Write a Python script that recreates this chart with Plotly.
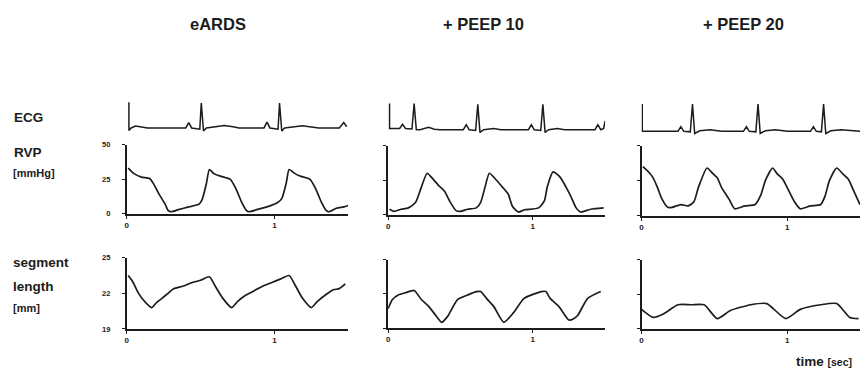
import plotly.graph_objects as go

W, H = 861, 374

# ---------------- data (time in s) ----------------
condition_titles = ["eARDS", "+ PEEP 10", "+ PEEP 20"]
x_tick_vals = [0, 1]
x_tick_text = ["0", "1"]
rvp_tick_vals = [0, 25, 50]
rvp_tick_text = ["0", "25", "50"]
seg_tick_vals = [19, 22, 25]
seg_tick_text = ["19", "22", "25"]

# ECG (relative units, baseline 0, R peak ~1)
ecg_t_ards = [0.015, 0.015, 0.03, 0.06, 0.10, 0.14, 0.40, 0.42, 0.44, 0.47, 0.495, 0.505, 0.52, 0.54,
              0.60, 0.66, 0.72, 0.76, 0.93, 0.95, 0.97, 1.00, 1.025, 1.035, 1.05, 1.07, 1.14, 1.19,
              1.25, 1.30, 1.44, 1.47, 1.49]
ecg_v_ards = [1.05, -0.1, 0.0, 0.08, 0.04, 0.0, 0.0, 0.22, 0.0, -0.02, -0.05, 1.02, -0.12, 0.0,
              0.05, 0.10, 0.05, 0.0, 0.0, 0.24, 0.0, -0.02, -0.05, 1.02, -0.12, 0.0, 0.05, 0.09,
              0.04, 0.0, 0.0, 0.22, 0.05]

ecg_t_p10 = [0.01, 0.01, 0.03, 0.08, 0.10, 0.12, 0.165, 0.18, 0.195, 0.22, 0.28, 0.32, 0.36, 0.52,
             0.54, 0.56, 0.605, 0.62, 0.635, 0.66, 0.73, 0.78, 0.97, 0.99, 1.01, 1.055, 1.07, 1.085,
             1.11, 1.17, 1.22, 1.43, 1.45, 1.47, 1.49, 1.50]
ecg_v_p10 = [1.0, 0.0, 0.0, 0.0, 0.17, 0.0, -0.02, 1.0, -0.05, -0.05, 0.05, -0.03, -0.05, -0.05,
             0.15, -0.05, -0.08, 0.97, -0.16, -0.05, 0.0, -0.05, -0.05, 0.15, -0.05, -0.08, 0.97, -0.16,
             -0.05, 0.0, -0.05, -0.05, 0.15, -0.05, 0.0, 0.30]

ecg_t_p20 = [0.005, 0.005, 0.03, 0.25, 0.27, 0.29, 0.335, 0.35, 0.365, 0.40, 0.47, 0.55, 0.70, 0.72,
             0.74, 0.785, 0.80, 0.815, 0.85, 0.92, 1.00, 1.16, 1.18, 1.20, 1.235, 1.25, 1.265, 1.30,
             1.37, 1.50]
ecg_v_p20 = [1.0, 0.0, 0.0, 0.0, 0.17, 0.0, -0.02, 1.0, -0.08, 0.02, 0.06, 0.0, 0.0, 0.17,
             0.0, -0.02, 1.0, -0.08, 0.02, 0.06, 0.0, 0.0, 0.17, 0.0, -0.02, 1.0, -0.08, 0.02,
             0.06, 0.0]

# RVP [mmHg]
rvp_t_ards = [0.01, 0.05, 0.10, 0.155, 0.18, 0.22, 0.26, 0.28, 0.30, 0.35, 0.42, 0.49, 0.51, 0.54,
              0.56, 0.59, 0.64, 0.70, 0.74, 0.78, 0.81, 0.83, 0.88, 0.95, 1.02, 1.05, 1.08, 1.10,
              1.14, 1.18, 1.24, 1.28, 1.32, 1.35, 1.37, 1.42, 1.47, 1.50]
rvp_v_ards = [33, 29, 26.5, 25.5, 22, 14, 7, 2.5, 1.5, 3, 5, 7, 10, 22,
              32, 29, 27, 25, 18, 8, 2.5, 1.5, 3, 5, 8, 11, 22, 32,
              29, 27, 25, 18, 8, 2.5, 1.5, 4, 5, 6]

rvp_t_p10 = [0.01, 0.04, 0.09, 0.14, 0.19, 0.23, 0.27, 0.30, 0.35, 0.39, 0.43, 0.47, 0.50, 0.55,
             0.61, 0.64, 0.67, 0.70, 0.74, 0.79, 0.83, 0.86, 0.90, 0.94, 1.04, 1.08, 1.10, 1.14,
             1.19, 1.23, 1.26, 1.30, 1.33, 1.40, 1.49]
rvp_v_p10 = [4, 2.5, 4, 5, 9, 20, 30, 27, 21, 17, 9, 3, 2.5, 4,
             5, 9, 20, 30, 26, 20, 15, 6, 2, 3.5, 5, 10, 20, 31,
             27, 20, 14, 5, 2, 4, 5]

rvp_t_p20 = [0.01, 0.05, 0.08, 0.11, 0.14, 0.18, 0.21, 0.27, 0.32, 0.36, 0.39, 0.45, 0.49, 0.52,
             0.55, 0.60, 0.64, 0.71, 0.78, 0.82, 0.85, 0.90, 0.93, 0.97, 1.01, 1.05, 1.09, 1.16,
             1.23, 1.26, 1.29, 1.34, 1.38, 1.42, 1.46, 1.50]
rvp_v_p20 = [35, 31, 27, 20, 12, 6, 6, 8, 7, 10, 20, 34, 30, 27,
             20, 12, 5, 7, 8, 15, 25, 34, 30, 26, 18, 10, 5, 7,
             8, 14, 25, 34, 30, 26, 17, 8]

# segment length [mm]
seg_t_ards = [0.01, 0.04, 0.08, 0.13, 0.17, 0.20, 0.24, 0.28, 0.32, 0.38, 0.44, 0.50, 0.56, 0.60,
              0.65, 0.71, 0.75, 0.80, 0.86, 0.92, 0.98, 1.04, 1.10, 1.14, 1.19, 1.25, 1.29, 1.35,
              1.40, 1.44, 1.48]
seg_v_ards = [23.5, 23.0, 22.0, 21.2, 20.8, 21.2, 21.6, 22.0, 22.4, 22.6, 22.9, 23.1, 23.4, 22.6,
              21.6, 20.8, 21.3, 21.8, 22.2, 22.6, 22.9, 23.2, 23.5, 22.7, 21.6, 20.8, 21.3, 21.9,
              22.3, 22.4, 22.8]

seg_t_p10 = [0.0, 0.03, 0.07, 0.12, 0.18, 0.23, 0.28, 0.33, 0.37, 0.41, 0.48, 0.55, 0.61, 0.64,
             0.68, 0.73, 0.80, 0.87, 0.94, 1.06, 1.09, 1.12, 1.18, 1.25, 1.28, 1.31, 1.38, 1.47]
seg_v_p10 = [20.7, 21.5, 21.9, 22.1, 22.3, 21.5, 20.9, 20.1, 19.5, 20.0, 21.5, 21.9, 22.2, 22.2,
             21.6, 20.9, 19.5, 20.4, 21.6, 22.2, 22.2, 21.6, 20.9, 19.7, 19.8, 20.1, 21.6, 22.2]

seg_t_p20 = [0.0, 0.08, 0.15, 0.25, 0.34, 0.43, 0.52, 0.61, 0.75, 0.86, 0.99, 1.09, 1.23, 1.34,
             1.43, 1.49]
seg_v_p20 = [20.7, 20.0, 20.3, 21.1, 21.1, 21.1, 19.9, 20.6, 21.1, 21.2, 19.9, 20.7, 21.1, 21.2,
             20.0, 19.9]

ecg_t = [ecg_t_ards, ecg_t_p10, ecg_t_p20]
ecg_v = [ecg_v_ards, ecg_v_p10, ecg_v_p20]
rvp_t = [rvp_t_ards, rvp_t_p10, rvp_t_p20]
rvp_v = [rvp_v_ards, rvp_v_p10, rvp_v_p20]
seg_t = [seg_t_ards, seg_t_p10, seg_t_p20]
seg_v = [seg_v_ards, seg_v_p10, seg_v_p20]

# ---------------- layout geometry (pixels) ----------------
col_x = [(125, 347), (387, 604.5), (641, 860)]
ecg_y = [(99.5, 132.0), (99.5, 132.6), (99.8, 136.0)]
rvp_y = [(144, 215), (145, 216), (145, 217)]
seg_y = [(260, 333), (262, 332), (262, 333)]


def xdom(a, b):
    return [a / W, b / W]


def ydom(top, bot):
    return [1 - bot / H, 1 - top / H]


INK = "#1c1c1c"
FONT = "Liberation Sans, Arial, sans-serif"

fig = go.Figure()
layout = dict(
    width=W, height=H,
    margin=dict(l=0, r=0, t=0, b=0),
    paper_bgcolor="white", plot_bgcolor="rgba(0,0,0,0)",
    showlegend=False,
    font=dict(family=FONT, color=INK),
)

for c in range(3):
    for r in range(3):
        idx = r * 3 + c + 1
        xa = "x" if idx == 1 else f"x{idx}"
        ya = "y" if idx == 1 else f"y{idx}"
        xkey = "xaxis" if idx == 1 else f"xaxis{idx}"
        ykey = "yaxis" if idx == 1 else f"yaxis{idx}"
        if r == 0:
            tt, vv = ecg_t[c], ecg_v[c]
            ydm = ydom(*ecg_y[c])
            yrng = [-0.2, 1.1]
            line = dict(color=INK, width=1.5)
        elif r == 1:
            tt, vv = rvp_t[c], rvp_v[c]
            ydm = ydom(*rvp_y[c])
            yrng = [0, 50]
            line = dict(color=INK, width=1.7, shape="spline", smoothing=0.6)
        else:
            tt, vv = seg_t[c], seg_v[c]
            ydm = ydom(*seg_y[c])
            yrng = [19, 25]
            line = dict(color=INK, width=1.7, shape="spline", smoothing=0.6)
        fig.add_trace(go.Scatter(x=tt, y=vv, mode="lines", xaxis=xa, yaxis=ya,
                                 line=line, hoverinfo="skip"))
        xd = xdom(*col_x[c])
        if r == 0:
            layout[xkey] = dict(domain=xd, range=[0, 1.5], visible=False, anchor=ya)
            layout[ykey] = dict(domain=ydm, range=yrng, visible=False, anchor=xa)
        else:
            layout[xkey] = dict(domain=xd, range=[0, 1.5], anchor=ya,
                                showline=True, linecolor=INK, linewidth=1.6,
                                showgrid=False, zeroline=False,
                                tickmode="array", tickvals=x_tick_vals, ticktext=x_tick_text,
                                ticks="outside", ticklen=3, tickwidth=1.4, tickcolor=INK,
                                ticklabelstandoff=0,
                                tickfont=dict(size=8, color=INK, family=FONT, weight="bold"))
            tv = rvp_tick_vals if r == 1 else seg_tick_vals
            tx = rvp_tick_text if r == 1 else seg_tick_text
            layout[ykey] = dict(domain=ydm, range=yrng, anchor=xa,
                                showline=True, linecolor=INK, linewidth=1.6,
                                showgrid=False, zeroline=False,
                                tickmode="array", tickvals=tv, ticktext=tx,
                                ticks="outside", ticklen=3, tickwidth=1.4, tickcolor=INK,
                                showticklabels=(c == 0), ticklabelstandoff=10,
                                tickfont=dict(size=7.5, color=INK, family=FONT, weight="bold"))

fig.update_layout(**layout)

# titles
title_x = [217, 483, 743]
for t, x in zip(condition_titles, title_x):
    fig.add_annotation(x=x / W, y=1 - 21 / H, xref="paper", yref="paper", text=t,
                       showarrow=False,
                       font=dict(size=16.5, color=INK, family=FONT, weight="bold"),
                       xanchor="center", yanchor="middle")

# left labels: (text, x_left, y_center, size)
left_labels = [("ECG", 10, 116, 13.5), ("RVP", 10, 152, 13.5), ("[mmHg]", 9, 173, 11),
               ("segment", 9, 265, 13.5), ("length", 9, 289, 13.5), ("[mm]", 9, 312, 11)]
for t, x, y, s in left_labels:
    fig.add_annotation(x=x / W, y=1 - y / H, xref="paper", yref="paper", text=t,
                       showarrow=False,
                       font=dict(size=s, color=INK, family=FONT, weight="bold"),
                       xanchor="left", yanchor="middle")

fig.add_annotation(x=794 / W, y=1 - 366 / H, xref="paper", yref="paper",
                   text="time <span style='font-size:10.5px'>[sec]</span>",
                   showarrow=False,
                   font=dict(size=13.5, color=INK, family=FONT, weight="bold"),
                   xanchor="left", yanchor="middle")

fig.write_html("out.html")
